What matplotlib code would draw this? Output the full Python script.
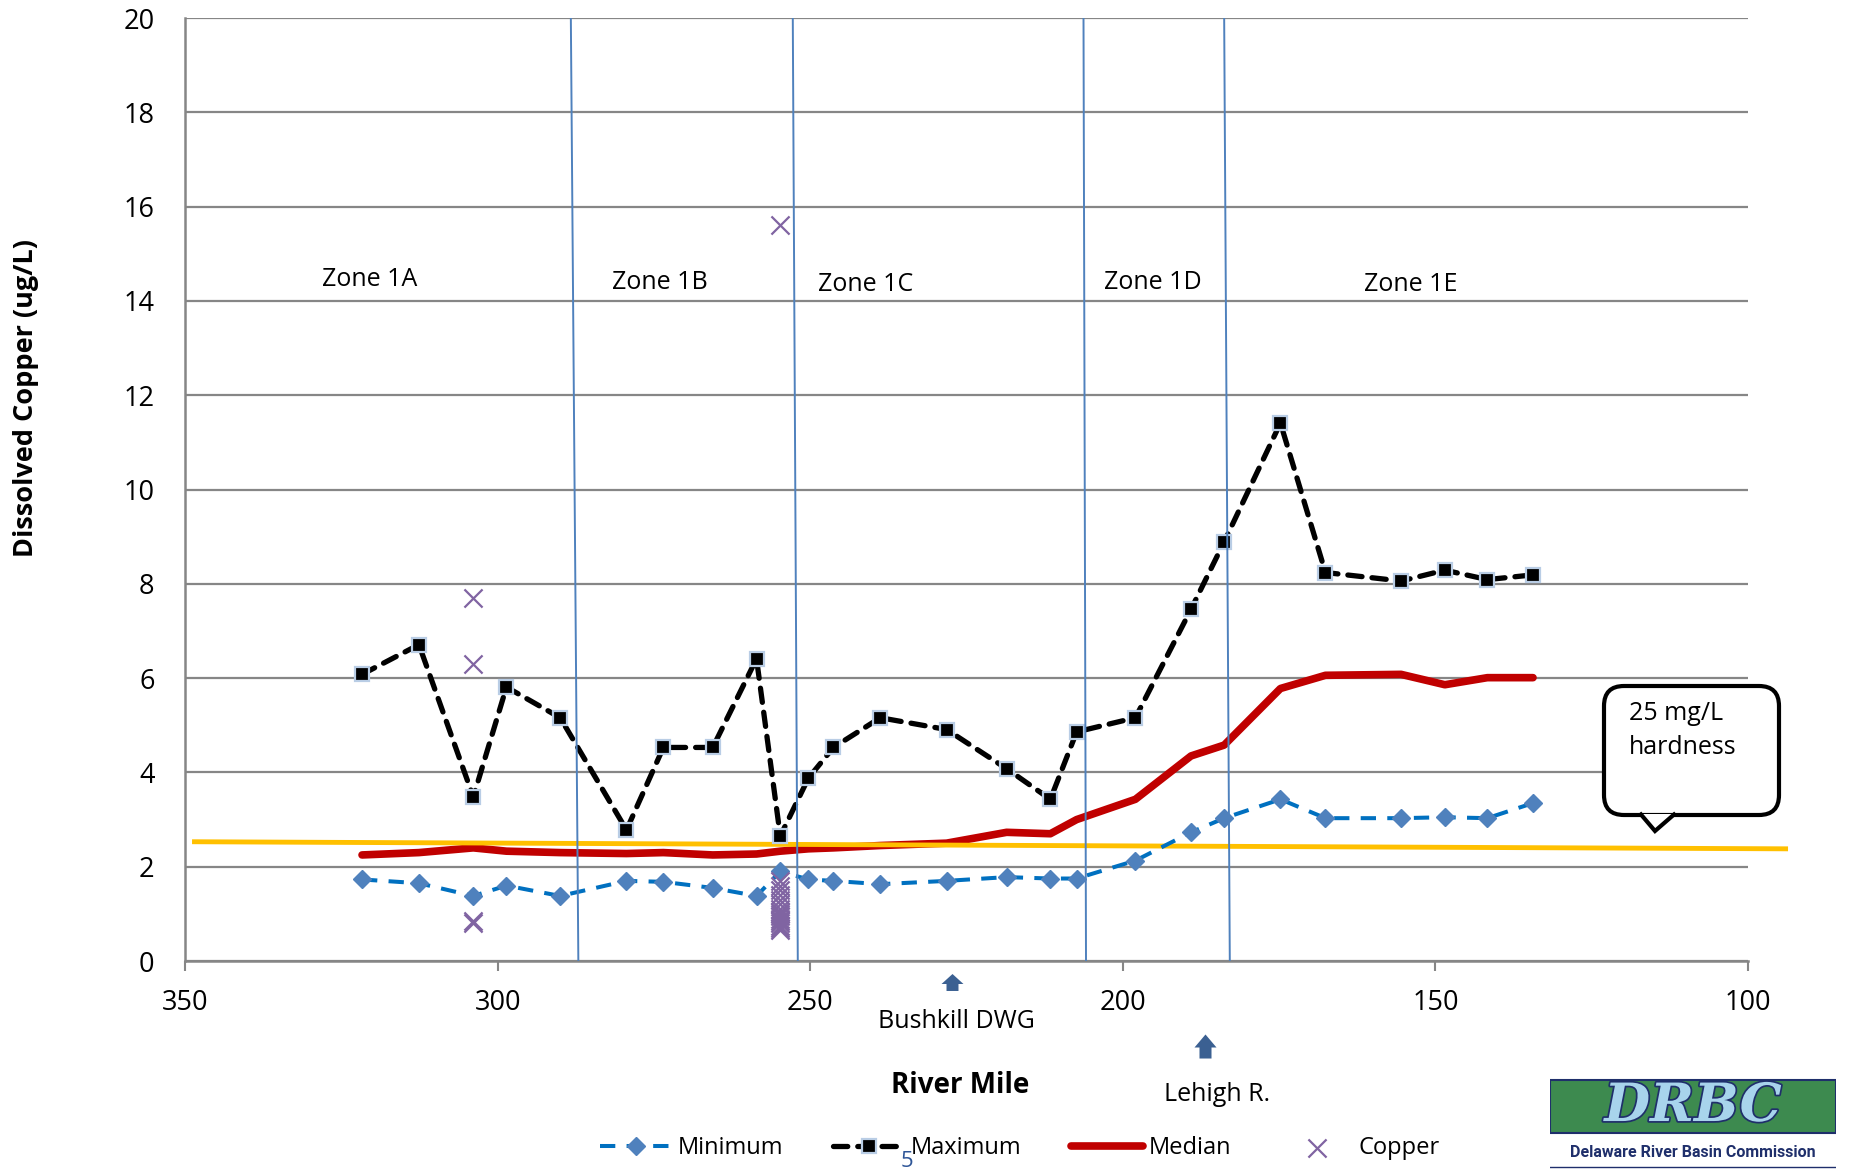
import matplotlib
matplotlib.use('Agg')
import matplotlib.pyplot as plt
import matplotlib.patheffects as pe
from matplotlib.patches import FancyBboxPatch, Polygon, Rectangle
from matplotlib.lines import Line2D
from matplotlib.path import Path

plt.rcParams['font.family'] = ['Open Sans', 'DejaVu Sans']

# River mile of each monitoring station (upstream on the left)
river_mile = [321.7, 312.6, 303.9, 298.6, 290.0, 279.4, 273.5, 265.6, 258.6, 254.8,
              250.3, 246.3, 238.8, 228.2, 218.6, 211.6, 207.4, 198.0, 189.1, 183.8,
              174.8, 167.6, 155.5, 148.5, 141.7, 134.4]

# Dissolved copper summary per station (ug/L)
cu_min = [1.73, 1.65, 1.38, 1.60, 1.38, 1.70, 1.68, 1.55, 1.38, 1.90,
          1.73, 1.70, 1.63, 1.70, 1.78, 1.75, 1.75, 2.13, 2.73, 3.03,
          3.43, 3.03, 3.03, 3.05, 3.03, 3.35]
cu_max = [6.08, 6.71, 3.48, 5.81, 5.16, 2.78, 4.53, 4.53, 6.41, 2.65,
          3.88, 4.53, 5.16, 4.91, 4.08, 3.43, 4.86, 5.16, 7.46, 8.89,
          11.41, 8.24, 8.06, 8.29, 8.09, 8.19]
cu_median = [2.25, 2.30, 2.40, 2.33, 2.30, 2.28, 2.30, 2.25, 2.27, 2.33,
             2.38, 2.40, 2.45, 2.50, 2.73, 2.70, 3.00, 3.43, 4.35, 4.58,
             5.78, 6.06, 6.08, 5.86, 6.01, 6.01]

# Individual copper results at the two extra sites
copper_mile = [303.9, 303.9, 303.9, 303.9,
               254.8, 254.8, 254.8, 254.8, 254.8, 254.8, 254.8, 254.8, 254.8,
               254.8, 254.8, 254.8, 254.8, 254.8, 254.8, 254.8, 254.8]
copper_value = [7.70, 6.30, 0.80, 0.85,
                15.60, 0.65, 0.70, 0.75, 0.80, 0.85, 0.90, 0.95, 1.00,
                1.05, 1.10, 1.20, 1.30, 1.40, 1.50, 1.60, 1.70]

# Copper criterion at 25 mg/L hardness
hardness_mile = [348.5, 94.0]
hardness_value = [2.53, 2.38]

# Zone boundaries (top, bottom) in river miles
zone_bounds = [(288.3, 287.1), (252.8, 252.0), (206.3, 205.9), (183.8, 182.9)]
zone_names = ['Zone 1A', 'Zone 1B', 'Zone 1C', 'Zone 1D', 'Zone 1E']
zone_label_mile = [320.5, 274.1, 241.2, 195.2, 154.0]
zone_label_y = [14.45, 14.4, 14.35, 14.4, 14.35]

# Tributary markers below the axis
trib_names = ['Bushkill DWG', 'Lehigh R.']
trib_mile = [227.3, 186.8]

grid_grey = '#868686'


def up_arrow(head_h, tail_h, head_w=22, tail_w=12):
    # block arrow pointing up, centred on the origin
    top = (head_h + tail_h) / 2
    base = top - head_h
    bottom = -top
    verts = [(0, top), (head_w / 2, base), (tail_w / 2, base), (tail_w / 2, bottom),
             (-tail_w / 2, bottom), (-tail_w / 2, base), (-head_w / 2, base), (0, top)]
    return Path(verts, closed=True)


fig = plt.figure(figsize=(18.51, 11.70), dpi=100)
ax = fig.add_axes([0.1, 0.1786, 0.8444, 0.806])

ax.set_xlim(350, 100)
ax.set_ylim(0, 20)
ax.set_xticks([350, 300, 250, 200, 150, 100])
ax.set_yticks(range(0, 21, 2))
ax.tick_params(axis='y', length=0, pad=22, labelsize=19.5)
ax.tick_params(axis='x', length=7, width=1.5, color=grid_grey, pad=13, labelsize=19.5)
ax.yaxis.grid(True, color=grid_grey, lw=1.6)
ax.set_axisbelow(True)
for side in ['top', 'right']:
    ax.spines[side].set_visible(False)
for side in ['left', 'bottom']:
    ax.spines[side].set_color(grid_grey)
    ax.spines[side].set_linewidth(1.8)

ax.set_ylabel('Dissolved Copper (ug/L)', fontsize=19.5, fontweight='bold')
ax.yaxis.set_label_coords(-0.0935, 0.597)

# series
h_med, = ax.plot(river_mile, cu_median, color='#c00000', lw=5.5,
                 solid_capstyle='round', solid_joinstyle='round', zorder=3)
h_max, = ax.plot(river_mile, cu_max, color='black', lw=3.8, dashes=(2.7, 1.9),
                 dash_capstyle='round', marker='s', ms=9.5, mfc='black',
                 mec='#b9cde5', mew=1.6, zorder=4)
h_min, = ax.plot(river_mile, cu_min, color='#0070c0', lw=2.9, dashes=(3.8, 2.8),
                 marker='D', ms=9, mfc='#4f81bd', mec='#4f81bd', zorder=4)
ax.plot(hardness_mile, hardness_value, color='#ffc000', lw=3.5, zorder=3.5,
        clip_on=False)
h_cu = ax.scatter(copper_mile, copper_value, marker='x', s=170, color='#8064a2',
                  linewidths=1.6, zorder=5)

# zone boundaries and labels
for top, bottom in zone_bounds:
    ax.plot([top, bottom], [20, 0], color='#4f81bd', lw=1.4, zorder=6)
for name, xm, ym in zip(zone_names, zone_label_mile, zone_label_y):
    ax.text(xm, ym, name, ha='center', va='center', fontsize=18)

# tributary arrows and labels
ax.plot(trib_mile[0], -0.44, marker=up_arrow(10, 7), ms=15.8, color='#3b6092',
        mew=0, clip_on=False)
ax.plot(trib_mile[1], -1.80, marker=up_arrow(13, 11), ms=17.3, color='#3b6092',
        mew=0, clip_on=False)
ax.text(226.7, -1.28, trib_names[0], ha='center', va='center', fontsize=18, clip_on=False)
ax.text(185.0, -2.83, trib_names[1], ha='center', va='center', fontsize=18, clip_on=False)
ax.text(226.0, -2.63, 'River Mile', ha='center', va='center', fontsize=20,
        fontweight='bold', clip_on=False)

# callout box for the hardness line (in inches on the figure)
inch = fig.dpi_scale_trans
box = FancyBboxPatch((16.04, 3.55), 1.75, 1.29,
                     boxstyle='round,pad=0,rounding_size=0.2',
                     fc='white', ec='black', lw=3, transform=inch, zorder=10)
fig.patches.append(box)
tail = Polygon([(16.41, 3.56), (16.55, 3.39), (16.74, 3.56)], closed=False,
               fc='white', ec='none', transform=inch, zorder=11)
fig.patches.append(tail)
fig.lines.append(Line2D([16.41, 16.55, 16.74], [3.555, 3.39, 3.555], color='black',
                        lw=3, transform=inch, zorder=12, solid_joinstyle='miter'))
fig.text(16.29, 4.69, '25 mg/L\nhardness', transform=inch, ha='left', va='top',
         fontsize=18, linespacing=1.45, zorder=13)

# legend along the bottom
fig.legend([h_min, h_max, h_med, h_cu], ['Minimum', 'Maximum', 'Median', 'Copper'],
           loc='center', bbox_to_anchor=(0.551, 0.019), ncol=4, frameon=False,
           fontsize=17, handlelength=3.05, columnspacing=2.1, handletextpad=0.25)
fig.text(0.490, 0.0075, '5', color='#2e5597', fontsize=16, ha='center', va='center')

# DRBC logo block
logo = fig.add_axes([0.8374, 0.0, 0.1545, 0.0786])
logo.set_xlim(0, 1)
logo.set_ylim(0, 1)
logo.axis('off')
logo.add_patch(Rectangle((0, 0.40), 1, 0.58, fc='#3d8a4f', ec='#1f2f6b', lw=1.5))
logo.text(0.5, 0.69, 'DRBC', ha='center', va='center', fontsize=38,
          family='DejaVu Serif', fontweight='bold', style='italic', color='#a8d4ec',
          path_effects=[pe.withStroke(linewidth=2.5, foreground='#1f2f6b')])
logo.text(0.5, 0.19, 'Delaware River Basin Commission', ha='center', va='center',
          fontsize=11.5, fontweight='bold', color='#1f2f6b', fontstretch='condensed',
          family=['Liberation Sans Narrow', 'Roboto', 'DejaVu Sans'])
logo.plot([0, 1], [0.03, 0.03], color='#1f2f6b', lw=1)

fig.savefig('out.png', dpi=100)
